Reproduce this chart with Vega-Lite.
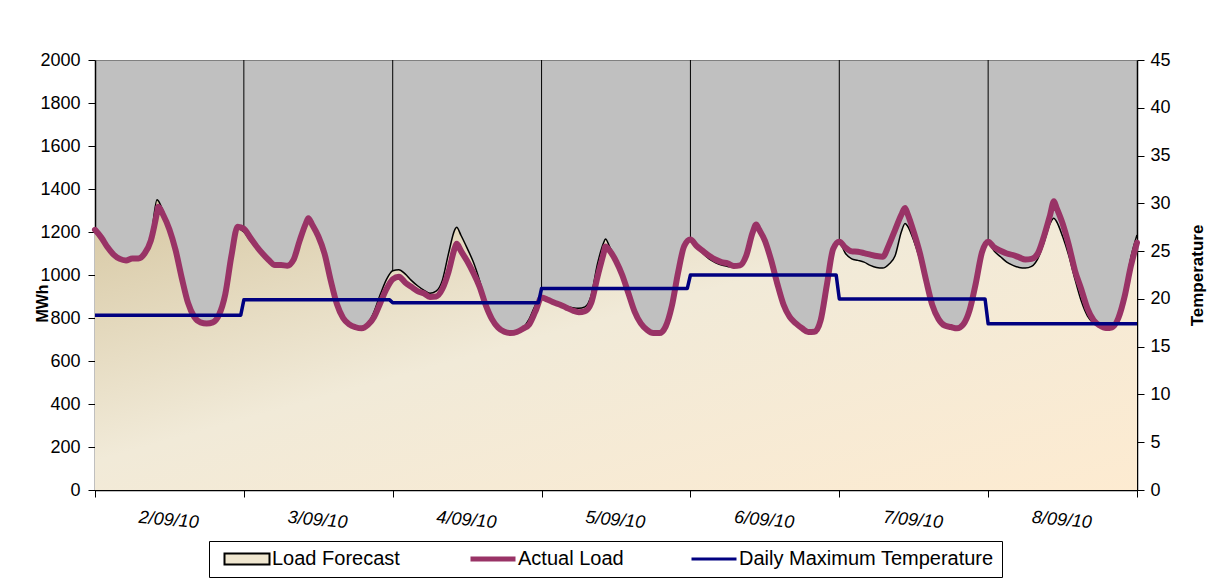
{
  "$schema": "https://vega.github.io/schema/vega-lite/v6.json",
  "width": 1042,
  "height": 430,
  "autosize": {"type": "none"},
  "padding": {"left": 95, "top": 60, "right": 78, "bottom": 90},
  "background": "white",
  "config": {
    "view": {"fill": "#c0c0c0", "stroke": "#808080", "strokeWidth": 1},
    "font": "Liberation Sans",
    "axis": {"labelFont": "Liberation Sans", "titleFont": "Liberation Sans", "labelColor": "black", "titleColor": "black", "domainColor": "black", "tickColor": "black", "domainWidth": 1.5, "tickWidth": 1, "grid": false}
  },
  "datasets": {
    "days": [{"t": 24}, {"t": 48}, {"t": 72}, {"t": 96}, {"t": 120}, {"t": 144}],
    "load": [
      {"t": 0, "actual": 1210, "forecast": 1200},
      {"t": 1, "actual": 1175, "forecast": 1170},
      {"t": 2, "actual": 1130, "forecast": 1125},
      {"t": 3, "actual": 1095, "forecast": 1090},
      {"t": 4, "actual": 1075, "forecast": 1070},
      {"t": 5, "actual": 1068, "forecast": 1062},
      {"t": 6, "actual": 1077, "forecast": 1072},
      {"t": 7, "actual": 1077, "forecast": 1075},
      {"t": 8, "actual": 1100, "forecast": 1100},
      {"t": 9, "actual": 1160, "forecast": 1170},
      {"t": 10, "actual": 1290, "forecast": 1350},
      {"t": 10.2, "actual": 1318, "forecast": 1345},
      {"t": 11, "actual": 1279, "forecast": 1295},
      {"t": 12, "actual": 1212, "forecast": 1228},
      {"t": 13, "actual": 1115, "forecast": 1120},
      {"t": 14, "actual": 985, "forecast": 990},
      {"t": 15, "actual": 870, "forecast": 870},
      {"t": 16, "actual": 805, "forecast": 805},
      {"t": 17, "actual": 780, "forecast": 780},
      {"t": 18, "actual": 775, "forecast": 775},
      {"t": 19, "actual": 780, "forecast": 780},
      {"t": 20, "actual": 815, "forecast": 815},
      {"t": 21, "actual": 910, "forecast": 905},
      {"t": 22, "actual": 1090, "forecast": 1085},
      {"t": 23, "actual": 1225, "forecast": 1215},
      {"t": 24, "actual": 1215, "forecast": 1200},
      {"t": 25, "actual": 1175, "forecast": 1160},
      {"t": 26, "actual": 1135, "forecast": 1125},
      {"t": 27, "actual": 1100, "forecast": 1095},
      {"t": 28, "actual": 1070, "forecast": 1065},
      {"t": 29, "actual": 1047, "forecast": 1045},
      {"t": 30, "actual": 1047, "forecast": 1045},
      {"t": 31, "actual": 1043, "forecast": 1040},
      {"t": 32, "actual": 1070, "forecast": 1070},
      {"t": 33, "actual": 1160, "forecast": 1160},
      {"t": 34, "actual": 1240, "forecast": 1240},
      {"t": 34.4, "actual": 1264, "forecast": 1264},
      {"t": 35, "actual": 1235, "forecast": 1235},
      {"t": 36, "actual": 1180, "forecast": 1180},
      {"t": 37, "actual": 1100, "forecast": 1100},
      {"t": 38, "actual": 975, "forecast": 975},
      {"t": 39, "actual": 865, "forecast": 865},
      {"t": 40, "actual": 800, "forecast": 800},
      {"t": 41, "actual": 770, "forecast": 770},
      {"t": 42, "actual": 757, "forecast": 757},
      {"t": 43, "actual": 752, "forecast": 752},
      {"t": 44, "actual": 768, "forecast": 775},
      {"t": 45, "actual": 805, "forecast": 830},
      {"t": 46, "actual": 870, "forecast": 910},
      {"t": 47, "actual": 935, "forecast": 980},
      {"t": 48, "actual": 980, "forecast": 1020},
      {"t": 49, "actual": 992, "forecast": 1025},
      {"t": 50, "actual": 965, "forecast": 1005},
      {"t": 51, "actual": 945, "forecast": 975},
      {"t": 52, "actual": 925, "forecast": 950},
      {"t": 53, "actual": 915, "forecast": 930},
      {"t": 54, "actual": 898, "forecast": 915},
      {"t": 55, "actual": 900, "forecast": 925},
      {"t": 56, "actual": 935, "forecast": 975},
      {"t": 57, "actual": 1015, "forecast": 1100},
      {"t": 58, "actual": 1125, "forecast": 1210},
      {"t": 58.3, "actual": 1145, "forecast": 1222},
      {"t": 59, "actual": 1112, "forecast": 1185},
      {"t": 60, "actual": 1065, "forecast": 1125},
      {"t": 61, "actual": 1010, "forecast": 1060},
      {"t": 62, "actual": 946, "forecast": 975},
      {"t": 63, "actual": 860, "forecast": 875},
      {"t": 64, "actual": 795, "forecast": 800},
      {"t": 65, "actual": 755, "forecast": 755},
      {"t": 66, "actual": 736, "forecast": 736},
      {"t": 67, "actual": 730, "forecast": 730},
      {"t": 68, "actual": 735, "forecast": 738},
      {"t": 69, "actual": 750, "forecast": 755},
      {"t": 70, "actual": 770, "forecast": 795},
      {"t": 71, "actual": 830, "forecast": 860},
      {"t": 72, "actual": 895, "forecast": 900},
      {"t": 73, "actual": 885, "forecast": 890},
      {"t": 74, "actual": 872, "forecast": 878},
      {"t": 75, "actual": 862, "forecast": 868},
      {"t": 76, "actual": 848, "forecast": 855},
      {"t": 77, "actual": 835, "forecast": 848},
      {"t": 78, "actual": 827, "forecast": 845},
      {"t": 79, "actual": 832, "forecast": 852},
      {"t": 80, "actual": 870, "forecast": 905},
      {"t": 81, "actual": 990, "forecast": 1050},
      {"t": 82, "actual": 1100, "forecast": 1150},
      {"t": 82.3, "actual": 1132, "forecast": 1168},
      {"t": 83, "actual": 1112, "forecast": 1130},
      {"t": 84, "actual": 1065, "forecast": 1075},
      {"t": 85, "actual": 1000, "forecast": 1000},
      {"t": 86, "actual": 915, "forecast": 915},
      {"t": 87, "actual": 830, "forecast": 830},
      {"t": 88, "actual": 775, "forecast": 775},
      {"t": 89, "actual": 745, "forecast": 745},
      {"t": 90, "actual": 730, "forecast": 730},
      {"t": 91, "actual": 730, "forecast": 732},
      {"t": 92, "actual": 760, "forecast": 765},
      {"t": 93, "actual": 855, "forecast": 860},
      {"t": 94, "actual": 1010, "forecast": 1015},
      {"t": 95, "actual": 1135, "forecast": 1140},
      {"t": 96, "actual": 1165, "forecast": 1165},
      {"t": 97, "actual": 1135, "forecast": 1130},
      {"t": 98, "actual": 1112, "forecast": 1100},
      {"t": 99, "actual": 1090, "forecast": 1075},
      {"t": 100, "actual": 1072, "forecast": 1058},
      {"t": 101, "actual": 1060, "forecast": 1046},
      {"t": 102, "actual": 1054, "forecast": 1040},
      {"t": 103, "actual": 1042, "forecast": 1035},
      {"t": 104, "actual": 1045, "forecast": 1040},
      {"t": 105, "actual": 1090, "forecast": 1080},
      {"t": 106, "actual": 1195, "forecast": 1195},
      {"t": 106.6, "actual": 1235, "forecast": 1242},
      {"t": 107, "actual": 1215, "forecast": 1225},
      {"t": 108, "actual": 1160, "forecast": 1165},
      {"t": 109, "actual": 1070, "forecast": 1075},
      {"t": 110, "actual": 960, "forecast": 962},
      {"t": 111, "actual": 863, "forecast": 865},
      {"t": 112, "actual": 805, "forecast": 805},
      {"t": 113, "actual": 775, "forecast": 775},
      {"t": 114, "actual": 752, "forecast": 752},
      {"t": 115, "actual": 735, "forecast": 735},
      {"t": 116, "actual": 736, "forecast": 740},
      {"t": 117, "actual": 790, "forecast": 800},
      {"t": 118, "actual": 955, "forecast": 965},
      {"t": 119, "actual": 1120, "forecast": 1125},
      {"t": 120, "actual": 1155, "forecast": 1150},
      {"t": 121, "actual": 1127, "forecast": 1100},
      {"t": 122, "actual": 1110, "forecast": 1075},
      {"t": 123, "actual": 1108, "forecast": 1068},
      {"t": 124, "actual": 1102, "forecast": 1060},
      {"t": 125, "actual": 1095, "forecast": 1045},
      {"t": 126, "actual": 1088, "forecast": 1035},
      {"t": 127, "actual": 1085, "forecast": 1032},
      {"t": 128, "actual": 1140, "forecast": 1050},
      {"t": 129, "actual": 1210, "forecast": 1090},
      {"t": 130, "actual": 1280, "forecast": 1200},
      {"t": 130.6, "actual": 1312, "forecast": 1240},
      {"t": 131, "actual": 1285, "forecast": 1228},
      {"t": 132, "actual": 1200, "forecast": 1160},
      {"t": 133, "actual": 1101, "forecast": 1070},
      {"t": 134, "actual": 975, "forecast": 955},
      {"t": 135, "actual": 860, "forecast": 855},
      {"t": 136, "actual": 795, "forecast": 795},
      {"t": 137, "actual": 765, "forecast": 765},
      {"t": 138, "actual": 758, "forecast": 758},
      {"t": 139, "actual": 752, "forecast": 752},
      {"t": 140, "actual": 770, "forecast": 770},
      {"t": 141, "actual": 835, "forecast": 840},
      {"t": 142, "actual": 960, "forecast": 970},
      {"t": 143, "actual": 1105, "forecast": 1110},
      {"t": 144, "actual": 1155, "forecast": 1150},
      {"t": 145, "actual": 1128, "forecast": 1110},
      {"t": 146, "actual": 1113, "forecast": 1085},
      {"t": 147, "actual": 1100, "forecast": 1060},
      {"t": 148, "actual": 1093, "forecast": 1045},
      {"t": 149, "actual": 1082, "forecast": 1035},
      {"t": 150, "actual": 1072, "forecast": 1032},
      {"t": 151, "actual": 1075, "forecast": 1040},
      {"t": 152, "actual": 1100, "forecast": 1075},
      {"t": 153, "actual": 1180, "forecast": 1150},
      {"t": 154, "actual": 1280, "forecast": 1240},
      {"t": 154.6, "actual": 1343, "forecast": 1264},
      {"t": 155, "actual": 1315, "forecast": 1250},
      {"t": 156, "actual": 1240, "forecast": 1180},
      {"t": 157, "actual": 1140, "forecast": 1090},
      {"t": 158, "actual": 1020, "forecast": 980},
      {"t": 159, "actual": 935, "forecast": 880},
      {"t": 160, "actual": 845, "forecast": 810},
      {"t": 161, "actual": 790, "forecast": 775},
      {"t": 162, "actual": 765, "forecast": 762},
      {"t": 163, "actual": 753, "forecast": 753},
      {"t": 164, "actual": 757, "forecast": 757},
      {"t": 165, "actual": 800, "forecast": 815},
      {"t": 166, "actual": 900, "forecast": 920},
      {"t": 167, "actual": 1040, "forecast": 1080},
      {"t": 168, "actual": 1150, "forecast": 1186}
    ],
    "temp": [
      {"t": 0, "temp": 18.3}, {"t": 23.5, "temp": 18.3},
      {"t": 24, "temp": 19.9}, {"t": 47.5, "temp": 19.9},
      {"t": 48, "temp": 19.6}, {"t": 71.5, "temp": 19.6},
      {"t": 72, "temp": 21.1}, {"t": 95.5, "temp": 21.1},
      {"t": 96, "temp": 22.5}, {"t": 119.5, "temp": 22.5},
      {"t": 120, "temp": 20.0}, {"t": 143.5, "temp": 20.0},
      {"t": 144, "temp": 17.4}, {"t": 168, "temp": 17.4}
    ]
  },
  "layer": [
    {
      "layer": [
        {
          "data": {"name": "days"},
          "mark": {"type": "rule", "color": "black", "strokeWidth": 1},
          "encoding": {
            "x": {
              "field": "t", "type": "quantitative",
              "scale": {"domain": [0, 168], "nice": false, "zero": false},
              "axis": {
                "title": null,
                "values": [0, 24, 48, 72, 96, 120, 144, 168],
                "labelExpr": "datum.value >= 168 ? '' : (floor(datum.value / 24) + 2) + '/09/10'",
                "labelOffset": 74,
                "labelAngle": 5,
                "labelAlign": "center",
                "labelBaseline": "top",
                "labelFontStyle": "italic",
                "labelFontSize": 18,
                "labelPadding": 14,
                "labelFlush": false,
                "labelOverlap": false,
                "labelBound": false,
                "tickSize": 7
              }
            }
          }
        },
        {
          "data": {"name": "load"},
          "mark": {
            "type": "area",
            "interpolate": "monotone",
            "opacity": 1,
            "fillOpacity": 1,
            "color": {
              "gradient": "linear", "x1": 0, "y1": 0, "x2": 1, "y2": 1,
              "stops": [
                {"offset": 0, "color": "#d6c7a2"},
                {"offset": 0.45, "color": "#f1ead8"},
                {"offset": 1, "color": "#fdebd1"}
              ]
            },
            "line": {"color": "black", "strokeWidth": 1.5}
          },
          "encoding": {
            "x": {"field": "t", "type": "quantitative"},
            "y": {
              "field": "forecast", "type": "quantitative",
              "scale": {"domain": [0, 2000], "nice": false},
              "axis": {
                "title": "MWh",
                "format": "d",
                "values": [0, 200, 400, 600, 800, 1000, 1200, 1400, 1600, 1800, 2000],
                "labelFontSize": 18,
                "labelPadding": 8,
                "tickSize": 7,
                "titleFontSize": 16,
                "titleFontWeight": "bold",
                "titleAngle": 270,
                "titleX": -53,
                "titleY": 243,
                "titleAlign": "center",
                "titleBaseline": "middle"
              }
            }
          }
        },
        {
          "data": {"name": "load"},
          "mark": {"type": "line", "interpolate": "monotone", "strokeWidth": 6, "strokeCap": "round", "strokeJoin": "round"},
          "encoding": {
            "x": {"field": "t", "type": "quantitative"},
            "y": {"field": "actual", "type": "quantitative"},
            "color": {
              "datum": "Actual Load", "type": "nominal",
              "scale": {
                "domain": ["Load Forecast", "Actual Load", "Daily Maximum Temperature"],
                "range": ["#000000", "#993366", "#000080"]
              },
              "legend": {
                "title": null,
                "orient": "none",
                "legendX": 114,
                "legendY": 481,
                "direction": "horizontal",
                "strokeColor": "black",
                "fillColor": "white",
                "padding": 8,
                "labelFontSize": 20,
                "labelFont": "Liberation Sans",
                "labelColor": "black",
                "labelOffset": 15,
                "symbolOffset": 20,
                "labelLimit": 400,
                "symbolSize": 2025,
                "columnPadding": 60,
                "encode": {
                  "symbols": {
                    "update": {
                      "shape": {"signal": "datum.value === 'Load Forecast' ? 'M-1,-0.24H1V0.24H-1Z' : 'M-1,0H1'"},
                      "fill": {"signal": "datum.value === 'Load Forecast' ? '#efe6cf' : 'transparent'"},
                      "strokeWidth": {"signal": "datum.value === 'Load Forecast' ? 2 : (datum.value === 'Actual Load' ? 5 : 3)"},
                      "opacity": {"value": 1}
                    }
                  }
                }
              }
            }
          }
        }
      ]
    },
    {
      "data": {"name": "temp"},
      "mark": {"type": "line", "strokeWidth": 3.5, "strokeJoin": "round"},
      "encoding": {
        "x": {"field": "t", "type": "quantitative"},
        "y": {
          "field": "temp", "type": "quantitative",
          "scale": {"domain": [0, 45], "nice": false},
          "axis": {
            "orient": "right",
            "title": "Temperature",
            "values": [0, 5, 10, 15, 20, 25, 30, 35, 40, 45],
            "labelFontSize": 18,
            "labelPadding": 6,
            "tickSize": 7,
            "titleFontSize": 17,
            "titleFontWeight": "bold",
            "titleAngle": 270,
            "titleX": 60,
            "titleY": 215,
            "titleAlign": "center",
            "titleBaseline": "middle"
          }
        },
        "color": {"datum": "Daily Maximum Temperature", "type": "nominal"}
      }
    }
  ],
  "resolve": {"scale": {"y": "independent"}}
}
